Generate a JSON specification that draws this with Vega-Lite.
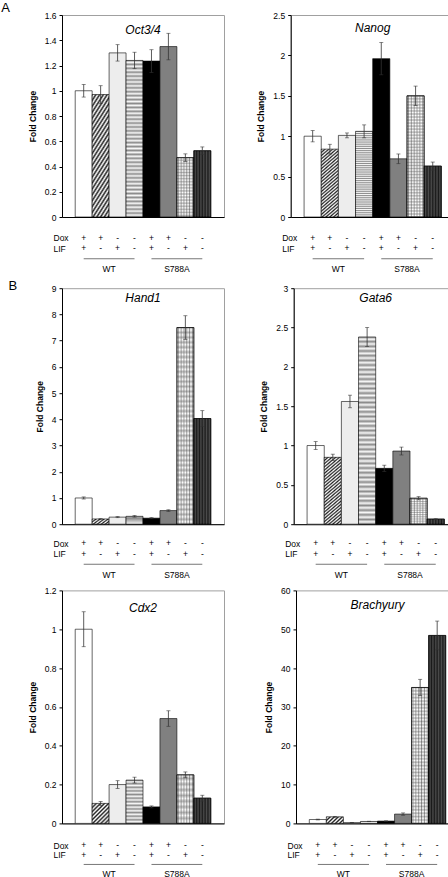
{
"$schema":"https://vega.github.io/schema/vega-lite/v6.json",
"padding":{"left":1,"top":1,"right":0,"bottom":0},
"background":"white",
"params":[
{"name":"hatchT","value":{"gradient":"linear","x1":0,"y1":0,"x2":0.25,"y2":1.15,"stops":[{"offset":0,"color":"#222"},{"offset":0.02,"color":"#fff"},{"offset":0.04,"color":"#222"},{"offset":0.06,"color":"#fff"},{"offset":0.08,"color":"#222"},{"offset":0.1,"color":"#fff"},{"offset":0.12,"color":"#222"},{"offset":0.14,"color":"#fff"},{"offset":0.16,"color":"#222"},{"offset":0.18,"color":"#fff"},{"offset":0.2,"color":"#222"},{"offset":0.22,"color":"#fff"},{"offset":0.24,"color":"#222"},{"offset":0.26,"color":"#fff"},{"offset":0.28,"color":"#222"},{"offset":0.3,"color":"#fff"},{"offset":0.32,"color":"#222"},{"offset":0.34,"color":"#fff"},{"offset":0.36,"color":"#222"},{"offset":0.38,"color":"#fff"},{"offset":0.4,"color":"#222"},{"offset":0.42,"color":"#fff"},{"offset":0.44,"color":"#222"},{"offset":0.46,"color":"#fff"},{"offset":0.48,"color":"#222"},{"offset":0.5,"color":"#fff"},{"offset":0.52,"color":"#222"},{"offset":0.54,"color":"#fff"},{"offset":0.56,"color":"#222"},{"offset":0.58,"color":"#fff"},{"offset":0.6,"color":"#222"},{"offset":0.62,"color":"#fff"},{"offset":0.64,"color":"#222"},{"offset":0.66,"color":"#fff"},{"offset":0.68,"color":"#222"},{"offset":0.7,"color":"#fff"},{"offset":0.72,"color":"#222"},{"offset":0.74,"color":"#fff"},{"offset":0.76,"color":"#222"},{"offset":0.78,"color":"#fff"},{"offset":0.8,"color":"#222"},{"offset":0.82,"color":"#fff"},{"offset":0.84,"color":"#222"},{"offset":0.86,"color":"#fff"},{"offset":0.88,"color":"#222"},{"offset":0.9,"color":"#fff"},{"offset":0.92,"color":"#222"},{"offset":0.94,"color":"#fff"},{"offset":0.96,"color":"#222"},{"offset":0.98,"color":"#fff"},{"offset":1,"color":"#222"}]}},
{"name":"hatchC","value":{"gradient":"linear","x1":0,"y1":0,"x2":0.91,"y2":1.08,"stops":[{"offset":0,"color":"#222"},{"offset":0.0556,"color":"#fff"},{"offset":0.1111,"color":"#222"},{"offset":0.1667,"color":"#fff"},{"offset":0.2222,"color":"#222"},{"offset":0.2778,"color":"#fff"},{"offset":0.3333,"color":"#222"},{"offset":0.3889,"color":"#fff"},{"offset":0.4444,"color":"#222"},{"offset":0.5,"color":"#fff"},{"offset":0.5556,"color":"#222"},{"offset":0.6111,"color":"#fff"},{"offset":0.6667,"color":"#222"},{"offset":0.7222,"color":"#fff"},{"offset":0.7778,"color":"#222"},{"offset":0.8333,"color":"#fff"},{"offset":0.8889,"color":"#222"},{"offset":0.9444,"color":"#fff"},{"offset":1,"color":"#222"}]}},
{"name":"hatchS","value":{"gradient":"linear","x1":0,"y1":0,"x2":1.21,"y2":0.5,"stops":[{"offset":0,"color":"#222"},{"offset":0.0833,"color":"#fff"},{"offset":0.1667,"color":"#222"},{"offset":0.25,"color":"#fff"},{"offset":0.3333,"color":"#222"},{"offset":0.4167,"color":"#fff"},{"offset":0.5,"color":"#222"},{"offset":0.5833,"color":"#fff"},{"offset":0.6667,"color":"#222"},{"offset":0.75,"color":"#fff"},{"offset":0.8333,"color":"#222"},{"offset":0.9167,"color":"#fff"},{"offset":1,"color":"#222"}]}},
{"name":"hstripeS","value":{"gradient":"linear","x1":0,"y1":0,"x2":0,"y2":1,"stops":[{"offset":0,"color":"#8c8c8c"},{"offset":0.0417,"color":"#f7f7f7"},{"offset":0.0833,"color":"#8c8c8c"},{"offset":0.125,"color":"#f7f7f7"},{"offset":0.1667,"color":"#8c8c8c"},{"offset":0.2083,"color":"#f7f7f7"},{"offset":0.25,"color":"#8c8c8c"},{"offset":0.2917,"color":"#f7f7f7"},{"offset":0.3333,"color":"#8c8c8c"},{"offset":0.375,"color":"#f7f7f7"},{"offset":0.4167,"color":"#8c8c8c"},{"offset":0.4583,"color":"#f7f7f7"},{"offset":0.5,"color":"#8c8c8c"},{"offset":0.5417,"color":"#f7f7f7"},{"offset":0.5833,"color":"#8c8c8c"},{"offset":0.625,"color":"#f7f7f7"},{"offset":0.6667,"color":"#8c8c8c"},{"offset":0.7083,"color":"#f7f7f7"},{"offset":0.75,"color":"#8c8c8c"},{"offset":0.7917,"color":"#f7f7f7"},{"offset":0.8333,"color":"#8c8c8c"},{"offset":0.875,"color":"#f7f7f7"},{"offset":0.9167,"color":"#8c8c8c"},{"offset":0.9583,"color":"#f7f7f7"},{"offset":1,"color":"#8c8c8c"}]}},
{"name":"hstripe","value":{"gradient":"linear","x1":0,"y1":0,"x2":0,"y2":1,"stops":[{"offset":0,"color":"#8c8c8c"},{"offset":0.0125,"color":"#f7f7f7"},{"offset":0.025,"color":"#8c8c8c"},{"offset":0.0375,"color":"#f7f7f7"},{"offset":0.05,"color":"#8c8c8c"},{"offset":0.0625,"color":"#f7f7f7"},{"offset":0.075,"color":"#8c8c8c"},{"offset":0.0875,"color":"#f7f7f7"},{"offset":0.1,"color":"#8c8c8c"},{"offset":0.1125,"color":"#f7f7f7"},{"offset":0.125,"color":"#8c8c8c"},{"offset":0.1375,"color":"#f7f7f7"},{"offset":0.15,"color":"#8c8c8c"},{"offset":0.1625,"color":"#f7f7f7"},{"offset":0.175,"color":"#8c8c8c"},{"offset":0.1875,"color":"#f7f7f7"},{"offset":0.2,"color":"#8c8c8c"},{"offset":0.2125,"color":"#f7f7f7"},{"offset":0.225,"color":"#8c8c8c"},{"offset":0.2375,"color":"#f7f7f7"},{"offset":0.25,"color":"#8c8c8c"},{"offset":0.2625,"color":"#f7f7f7"},{"offset":0.275,"color":"#8c8c8c"},{"offset":0.2875,"color":"#f7f7f7"},{"offset":0.3,"color":"#8c8c8c"},{"offset":0.3125,"color":"#f7f7f7"},{"offset":0.325,"color":"#8c8c8c"},{"offset":0.3375,"color":"#f7f7f7"},{"offset":0.35,"color":"#8c8c8c"},{"offset":0.3625,"color":"#f7f7f7"},{"offset":0.375,"color":"#8c8c8c"},{"offset":0.3875,"color":"#f7f7f7"},{"offset":0.4,"color":"#8c8c8c"},{"offset":0.4125,"color":"#f7f7f7"},{"offset":0.425,"color":"#8c8c8c"},{"offset":0.4375,"color":"#f7f7f7"},{"offset":0.45,"color":"#8c8c8c"},{"offset":0.4625,"color":"#f7f7f7"},{"offset":0.475,"color":"#8c8c8c"},{"offset":0.4875,"color":"#f7f7f7"},{"offset":0.5,"color":"#8c8c8c"},{"offset":0.5125,"color":"#f7f7f7"},{"offset":0.525,"color":"#8c8c8c"},{"offset":0.5375,"color":"#f7f7f7"},{"offset":0.55,"color":"#8c8c8c"},{"offset":0.5625,"color":"#f7f7f7"},{"offset":0.575,"color":"#8c8c8c"},{"offset":0.5875,"color":"#f7f7f7"},{"offset":0.6,"color":"#8c8c8c"},{"offset":0.6125,"color":"#f7f7f7"},{"offset":0.625,"color":"#8c8c8c"},{"offset":0.6375,"color":"#f7f7f7"},{"offset":0.65,"color":"#8c8c8c"},{"offset":0.6625,"color":"#f7f7f7"},{"offset":0.675,"color":"#8c8c8c"},{"offset":0.6875,"color":"#f7f7f7"},{"offset":0.7,"color":"#8c8c8c"},{"offset":0.7125,"color":"#f7f7f7"},{"offset":0.725,"color":"#8c8c8c"},{"offset":0.7375,"color":"#f7f7f7"},{"offset":0.75,"color":"#8c8c8c"},{"offset":0.7625,"color":"#f7f7f7"},{"offset":0.775,"color":"#8c8c8c"},{"offset":0.7875,"color":"#f7f7f7"},{"offset":0.8,"color":"#8c8c8c"},{"offset":0.8125,"color":"#f7f7f7"},{"offset":0.825,"color":"#8c8c8c"},{"offset":0.8375,"color":"#f7f7f7"},{"offset":0.85,"color":"#8c8c8c"},{"offset":0.8625,"color":"#f7f7f7"},{"offset":0.875,"color":"#8c8c8c"},{"offset":0.8875,"color":"#f7f7f7"},{"offset":0.9,"color":"#8c8c8c"},{"offset":0.9125,"color":"#f7f7f7"},{"offset":0.925,"color":"#8c8c8c"},{"offset":0.9375,"color":"#f7f7f7"},{"offset":0.95,"color":"#8c8c8c"},{"offset":0.9625,"color":"#f7f7f7"},{"offset":0.975,"color":"#8c8c8c"},{"offset":0.9875,"color":"#f7f7f7"},{"offset":1,"color":"#8c8c8c"}]}},
{"name":"gridH","value":{"gradient":"linear","x1":0,"y1":0,"x2":0,"y2":1,"stops":[{"offset":0,"color":"#b0b0b0"},{"offset":0.0125,"color":"#ffffff"},{"offset":0.025,"color":"#b0b0b0"},{"offset":0.0375,"color":"#ffffff"},{"offset":0.05,"color":"#b0b0b0"},{"offset":0.0625,"color":"#ffffff"},{"offset":0.075,"color":"#b0b0b0"},{"offset":0.0875,"color":"#ffffff"},{"offset":0.1,"color":"#b0b0b0"},{"offset":0.1125,"color":"#ffffff"},{"offset":0.125,"color":"#b0b0b0"},{"offset":0.1375,"color":"#ffffff"},{"offset":0.15,"color":"#b0b0b0"},{"offset":0.1625,"color":"#ffffff"},{"offset":0.175,"color":"#b0b0b0"},{"offset":0.1875,"color":"#ffffff"},{"offset":0.2,"color":"#b0b0b0"},{"offset":0.2125,"color":"#ffffff"},{"offset":0.225,"color":"#b0b0b0"},{"offset":0.2375,"color":"#ffffff"},{"offset":0.25,"color":"#b0b0b0"},{"offset":0.2625,"color":"#ffffff"},{"offset":0.275,"color":"#b0b0b0"},{"offset":0.2875,"color":"#ffffff"},{"offset":0.3,"color":"#b0b0b0"},{"offset":0.3125,"color":"#ffffff"},{"offset":0.325,"color":"#b0b0b0"},{"offset":0.3375,"color":"#ffffff"},{"offset":0.35,"color":"#b0b0b0"},{"offset":0.3625,"color":"#ffffff"},{"offset":0.375,"color":"#b0b0b0"},{"offset":0.3875,"color":"#ffffff"},{"offset":0.4,"color":"#b0b0b0"},{"offset":0.4125,"color":"#ffffff"},{"offset":0.425,"color":"#b0b0b0"},{"offset":0.4375,"color":"#ffffff"},{"offset":0.45,"color":"#b0b0b0"},{"offset":0.4625,"color":"#ffffff"},{"offset":0.475,"color":"#b0b0b0"},{"offset":0.4875,"color":"#ffffff"},{"offset":0.5,"color":"#b0b0b0"},{"offset":0.5125,"color":"#ffffff"},{"offset":0.525,"color":"#b0b0b0"},{"offset":0.5375,"color":"#ffffff"},{"offset":0.55,"color":"#b0b0b0"},{"offset":0.5625,"color":"#ffffff"},{"offset":0.575,"color":"#b0b0b0"},{"offset":0.5875,"color":"#ffffff"},{"offset":0.6,"color":"#b0b0b0"},{"offset":0.6125,"color":"#ffffff"},{"offset":0.625,"color":"#b0b0b0"},{"offset":0.6375,"color":"#ffffff"},{"offset":0.65,"color":"#b0b0b0"},{"offset":0.6625,"color":"#ffffff"},{"offset":0.675,"color":"#b0b0b0"},{"offset":0.6875,"color":"#ffffff"},{"offset":0.7,"color":"#b0b0b0"},{"offset":0.7125,"color":"#ffffff"},{"offset":0.725,"color":"#b0b0b0"},{"offset":0.7375,"color":"#ffffff"},{"offset":0.75,"color":"#b0b0b0"},{"offset":0.7625,"color":"#ffffff"},{"offset":0.775,"color":"#b0b0b0"},{"offset":0.7875,"color":"#ffffff"},{"offset":0.8,"color":"#b0b0b0"},{"offset":0.8125,"color":"#ffffff"},{"offset":0.825,"color":"#b0b0b0"},{"offset":0.8375,"color":"#ffffff"},{"offset":0.85,"color":"#b0b0b0"},{"offset":0.8625,"color":"#ffffff"},{"offset":0.875,"color":"#b0b0b0"},{"offset":0.8875,"color":"#ffffff"},{"offset":0.9,"color":"#b0b0b0"},{"offset":0.9125,"color":"#ffffff"},{"offset":0.925,"color":"#b0b0b0"},{"offset":0.9375,"color":"#ffffff"},{"offset":0.95,"color":"#b0b0b0"},{"offset":0.9625,"color":"#ffffff"},{"offset":0.975,"color":"#b0b0b0"},{"offset":0.9875,"color":"#ffffff"},{"offset":1,"color":"#b0b0b0"}]}},
{"name":"gridV","value":{"gradient":"linear","x1":0,"y1":0,"x2":1,"y2":0,"stops":[{"offset":0,"color":"rgba(255,255,255,0)"},{"offset":0.0833,"color":"rgba(60,60,60,0.55)"},{"offset":0.1667,"color":"rgba(255,255,255,0)"},{"offset":0.25,"color":"rgba(60,60,60,0.55)"},{"offset":0.3333,"color":"rgba(255,255,255,0)"},{"offset":0.4167,"color":"rgba(60,60,60,0.55)"},{"offset":0.5,"color":"rgba(255,255,255,0)"},{"offset":0.5833,"color":"rgba(60,60,60,0.55)"},{"offset":0.6667,"color":"rgba(255,255,255,0)"},{"offset":0.75,"color":"rgba(60,60,60,0.55)"},{"offset":0.8333,"color":"rgba(255,255,255,0)"},{"offset":0.9167,"color":"rgba(60,60,60,0.55)"},{"offset":1,"color":"rgba(255,255,255,0)"}]}},
{"name":"dotV","value":{"gradient":"linear","x1":0,"y1":0,"x2":1,"y2":0,"stops":[{"offset":0,"color":"rgba(255,255,255,0)"},{"offset":0.0833,"color":"rgba(255,255,255,0.22)"},{"offset":0.1667,"color":"rgba(255,255,255,0)"},{"offset":0.25,"color":"rgba(255,255,255,0.22)"},{"offset":0.3333,"color":"rgba(255,255,255,0)"},{"offset":0.4167,"color":"rgba(255,255,255,0.22)"},{"offset":0.5,"color":"rgba(255,255,255,0)"},{"offset":0.5833,"color":"rgba(255,255,255,0.22)"},{"offset":0.6667,"color":"rgba(255,255,255,0)"},{"offset":0.75,"color":"rgba(255,255,255,0.22)"},{"offset":0.8333,"color":"rgba(255,255,255,0)"},{"offset":0.9167,"color":"rgba(255,255,255,0.22)"},{"offset":1,"color":"rgba(255,255,255,0)"}]}}
],
"datasets":{
"bars":[
{"gene":"Oct3/4","cond":"c1","value":1.0,"err":0.05},{"gene":"Oct3/4","cond":"c2","value":0.97,"err":0.07},{"gene":"Oct3/4","cond":"c3","value":1.3,"err":0.065},{"gene":"Oct3/4","cond":"c4","value":1.24,"err":0.065},{"gene":"Oct3/4","cond":"c5","value":1.235,"err":0.09},{"gene":"Oct3/4","cond":"c6","value":1.35,"err":0.105},{"gene":"Oct3/4","cond":"c7","value":0.47,"err":0.03},{"gene":"Oct3/4","cond":"c8","value":0.525,"err":0.03},
{"gene":"Nanog","cond":"c1","value":1.0,"err":0.07},{"gene":"Nanog","cond":"c2","value":0.84,"err":0.06},{"gene":"Nanog","cond":"c3","value":1.01,"err":0.03},{"gene":"Nanog","cond":"c4","value":1.06,"err":0.08},{"gene":"Nanog","cond":"c5","value":1.96,"err":0.2},{"gene":"Nanog","cond":"c6","value":0.72,"err":0.06},{"gene":"Nanog","cond":"c7","value":1.5,"err":0.12},{"gene":"Nanog","cond":"c8","value":0.63,"err":0.05},
{"gene":"Hand1","cond":"c1","value":1.0,"err":0.04},{"gene":"Hand1","cond":"c2","value":0.2,"err":0.01},{"gene":"Hand1","cond":"c3","value":0.27,"err":0.02},{"gene":"Hand1","cond":"c4","value":0.3,"err":0.03},{"gene":"Hand1","cond":"c5","value":0.23,"err":0.02},{"gene":"Hand1","cond":"c6","value":0.52,"err":0.03},{"gene":"Hand1","cond":"c7","value":7.5,"err":0.45},{"gene":"Hand1","cond":"c8","value":4.03,"err":0.3},
{"gene":"Gata6","cond":"c1","value":1.0,"err":0.05},{"gene":"Gata6","cond":"c2","value":0.85,"err":0.04},{"gene":"Gata6","cond":"c3","value":1.56,"err":0.08},{"gene":"Gata6","cond":"c4","value":2.38,"err":0.12},{"gene":"Gata6","cond":"c5","value":0.71,"err":0.04},{"gene":"Gata6","cond":"c6","value":0.93,"err":0.05},{"gene":"Gata6","cond":"c7","value":0.33,"err":0.02},{"gene":"Gata6","cond":"c8","value":0.065,"err":0.005},
{"gene":"Cdx2","cond":"c1","value":1.0,"err":0.09},{"gene":"Cdx2","cond":"c2","value":0.103,"err":0.01},{"gene":"Cdx2","cond":"c3","value":0.2,"err":0.02},{"gene":"Cdx2","cond":"c4","value":0.223,"err":0.015},{"gene":"Cdx2","cond":"c5","value":0.085,"err":0.005},{"gene":"Cdx2","cond":"c6","value":0.54,"err":0.04},{"gene":"Cdx2","cond":"c7","value":0.25,"err":0.015},{"gene":"Cdx2","cond":"c8","value":0.13,"err":0.015},
{"gene":"Brachyury","cond":"c1","value":1.0,"err":0.1},{"gene":"Brachyury","cond":"c2","value":1.7,"err":0.1},{"gene":"Brachyury","cond":"c3","value":0.2,"err":0.05},{"gene":"Brachyury","cond":"c4","value":0.5,"err":0.05},{"gene":"Brachyury","cond":"c5","value":0.6,"err":0.05},{"gene":"Brachyury","cond":"c6","value":2.4,"err":0.3},{"gene":"Brachyury","cond":"c7","value":35,"err":2.1},{"gene":"Brachyury","cond":"c8","value":48.4,"err":3.7}
],
"ann":[
{"cond":"c1","row":"Dox","sym":"+"},{"cond":"c2","row":"Dox","sym":"+"},{"cond":"c3","row":"Dox","sym":"-"},{"cond":"c4","row":"Dox","sym":"-"},{"cond":"c5","row":"Dox","sym":"+"},{"cond":"c6","row":"Dox","sym":"+"},{"cond":"c7","row":"Dox","sym":"-"},{"cond":"c8","row":"Dox","sym":"-"},
{"cond":"c1","row":"LIF","sym":"+"},{"cond":"c2","row":"LIF","sym":"-"},{"cond":"c3","row":"LIF","sym":"+"},{"cond":"c4","row":"LIF","sym":"-"},{"cond":"c5","row":"LIF","sym":"+"},{"cond":"c6","row":"LIF","sym":"-"},{"cond":"c7","row":"LIF","sym":"+"},{"cond":"c8","row":"LIF","sym":"-"}
],
"grp":[{"grp":"WT","from":"c1","to":"c4","mid":"c2"},{"grp":"S788A","from":"c5","to":"c8","mid":"c6"}]
},
"spacing":5.2,
"vconcat":[
{"title":{"text":"A","orient":"left","anchor":"end","frame":"group","angle":0,"align":"right","baseline":"alphabetic","fontSize":13,"offset":9,"dy":-3.25},
"spacing":30.7,
"hconcat":[
{"spacing":10.5,"vconcat":[
{"width":162,"height":202,
"data":{"name":"bars"},"transform":[{"filter":"datum.gene === 'Oct3/4'"}],
"encoding":{"x":{"field":"cond","type":"nominal","scale":{"domain":["c1","c2","c3","c4","c5","c6","c7","c8"],"paddingInner":0,"paddingOuter":0.78},"axis":{"labels":false,"ticks":false,"title":null}},
"y":{"field":"value","type":"quantitative","scale":{"domain":[0,1.6],"nice":false},"axis":{"values":[0,0.2,0.4,0.6,0.8,1,1.2,1.4,1.6],"format":"~r","title":"Fold Change"}}},
"layer":[
{"transform":[{"filter":"datum.cond === 'c1'"}],"mark":{"type":"bar","fill":"#ffffff"}},
{"transform":[{"filter":"datum.cond === 'c2'"}],"mark":{"type":"bar","fill":{"expr":"hatchT"}}},
{"transform":[{"filter":"datum.cond === 'c3'"}],"mark":{"type":"bar","fill":"#ededed"}},
{"transform":[{"filter":"datum.cond === 'c4'"}],"mark":{"type":"bar","fill":{"expr":"hstripe"}}},
{"transform":[{"filter":"datum.cond === 'c5'"}],"mark":{"type":"bar","fill":"#000000"}},
{"transform":[{"filter":"datum.cond === 'c6'"}],"mark":{"type":"bar","fill":"#808080"}},
{"transform":[{"filter":"datum.cond === 'c7'"}],"mark":{"type":"bar","fill":{"expr":"gridH"}}},
{"transform":[{"filter":"datum.cond === 'c7'"}],"mark":{"type":"bar","fill":{"expr":"gridV"}}},
{"transform":[{"filter":"datum.cond === 'c8'"}],"mark":{"type":"bar","fill":"#1a1a1a"}},
{"transform":[{"filter":"datum.cond === 'c8'"}],"mark":{"type":"bar","fill":{"expr":"dotV"}}},
{"mark":{"type":"errorbar","color":"#333","thickness":0.8,"ticks":{"size":4}},"encoding":{"yError":{"field":"err"}}},
{"transform":[{"filter":"datum.cond === 'c4'"}],"mark":{"type":"text","fontSize":12,"fontStyle":"italic","baseline":"alphabetic","align":"center"},"encoding":{"x":{"field":"cond","type":"nominal","bandPosition":1},"y":{"datum":1.45,"type":"quantitative"},"text":{"field":"gene"}}}
]},
{"width":162,"height":42,"view":{"stroke":null},
"layer":[
{"data":{"name":"ann"},"mark":{"type":"text"},"encoding":{"x":{"field":"cond","type":"nominal","scale":{"domain":["c1","c2","c3","c4","c5","c6","c7","c8"],"paddingInner":0,"paddingOuter":0.78},"axis":null},"y":{"field":"row","type":"nominal","scale":{"type":"point","domain":["Dox","LIF","line","grp"],"padding":0.5},"axis":{"values":["Dox","LIF"],"domain":false,"ticks":false,"tickSize":0,"labelAlign":"left","labelPadding":9,"title":null}},"text":{"field":"sym"}}},
{"data":{"name":"grp"},"mark":{"type":"rule","color":"#777","strokeWidth":1},"encoding":{"x":{"field":"from","type":"nominal"},"x2":{"field":"to"},"y":{"datum":"line","type":"nominal"}}},
{"data":{"name":"grp"},"mark":{"type":"text"},"encoding":{"x":{"field":"mid","type":"nominal","bandPosition":1},"y":{"datum":"grp","type":"nominal"},"text":{"field":"grp"}}}
]}
]},
{"spacing":10.5,"vconcat":[
{"width":164,"height":202,
"data":{"name":"bars"},"transform":[{"filter":"datum.gene === 'Nanog'"}],
"encoding":{"x":{"field":"cond","type":"nominal","scale":{"domain":["c1","c2","c3","c4","c5","c6","c7","c8"],"paddingInner":0,"paddingOuter":0.78},"axis":{"labels":false,"ticks":false,"title":null}},
"y":{"field":"value","type":"quantitative","scale":{"domain":[0,2.5],"nice":false},"axis":{"values":[0,0.5,1,1.5,2,2.5],"format":"~r","title":"Fold Change"}}},
"layer":[
{"transform":[{"filter":"datum.cond === 'c1'"}],"mark":{"type":"bar","fill":"#ffffff"}},
{"transform":[{"filter":"datum.cond === 'c2'"}],"mark":{"type":"bar","fill":{"expr":"hatchT"}}},
{"transform":[{"filter":"datum.cond === 'c3'"}],"mark":{"type":"bar","fill":"#ededed"}},
{"transform":[{"filter":"datum.cond === 'c4'"}],"mark":{"type":"bar","fill":{"expr":"hstripe"}}},
{"transform":[{"filter":"datum.cond === 'c5'"}],"mark":{"type":"bar","fill":"#000000"}},
{"transform":[{"filter":"datum.cond === 'c6'"}],"mark":{"type":"bar","fill":"#808080"}},
{"transform":[{"filter":"datum.cond === 'c7'"}],"mark":{"type":"bar","fill":{"expr":"gridH"}}},
{"transform":[{"filter":"datum.cond === 'c7'"}],"mark":{"type":"bar","fill":{"expr":"gridV"}}},
{"transform":[{"filter":"datum.cond === 'c8'"}],"mark":{"type":"bar","fill":"#1a1a1a"}},
{"transform":[{"filter":"datum.cond === 'c8'"}],"mark":{"type":"bar","fill":{"expr":"dotV"}}},
{"mark":{"type":"errorbar","color":"#333","thickness":0.8,"ticks":{"size":4}},"encoding":{"yError":{"field":"err"}}},
{"transform":[{"filter":"datum.cond === 'c4'"}],"mark":{"type":"text","fontSize":12,"fontStyle":"italic","baseline":"alphabetic","align":"center"},"encoding":{"x":{"field":"cond","type":"nominal","bandPosition":1},"y":{"datum":2.29,"type":"quantitative"},"text":{"field":"gene"}}}
]},
{"width":164,"height":42,"view":{"stroke":null},
"layer":[
{"data":{"name":"ann"},"mark":{"type":"text"},"encoding":{"x":{"field":"cond","type":"nominal","scale":{"domain":["c1","c2","c3","c4","c5","c6","c7","c8"],"paddingInner":0,"paddingOuter":0.78},"axis":null},"y":{"field":"row","type":"nominal","scale":{"type":"point","domain":["Dox","LIF","line","grp"],"padding":0.5},"axis":{"values":["Dox","LIF"],"domain":false,"ticks":false,"tickSize":0,"labelAlign":"left","labelPadding":9,"title":null}},"text":{"field":"sym"}}},
{"data":{"name":"grp"},"mark":{"type":"rule","color":"#777","strokeWidth":1},"encoding":{"x":{"field":"from","type":"nominal"},"x2":{"field":"to"},"y":{"datum":"line","type":"nominal"}}},
{"data":{"name":"grp"},"mark":{"type":"text"},"encoding":{"x":{"field":"mid","type":"nominal","bandPosition":1},"y":{"datum":"grp","type":"nominal"},"text":{"field":"grp"}}}
]}
]}
]},
{"title":{"text":"B","orient":"left","anchor":"end","frame":"group","angle":0,"align":"right","baseline":"alphabetic","fontSize":13,"offset":9,"dy":2},
"spacing":33.7,
"hconcat":[
{"spacing":8.8,"vconcat":[
{"width":162,"height":236,
"data":{"name":"bars"},"transform":[{"filter":"datum.gene === 'Hand1'"}],
"encoding":{"x":{"field":"cond","type":"nominal","scale":{"domain":["c1","c2","c3","c4","c5","c6","c7","c8"],"paddingInner":0,"paddingOuter":0.78},"axis":{"labels":false,"ticks":false,"title":null}},
"y":{"field":"value","type":"quantitative","scale":{"domain":[0,9],"nice":false},"axis":{"values":[0,1,2,3,4,5,6,7,8,9],"format":"~r","title":"Fold Change"}}},
"layer":[
{"transform":[{"filter":"datum.cond === 'c1'"}],"mark":{"type":"bar","fill":"#ffffff"}},
{"transform":[{"filter":"datum.cond === 'c2'"}],"mark":{"type":"bar","fill":{"expr":"hatchS"}}},
{"transform":[{"filter":"datum.cond === 'c3'"}],"mark":{"type":"bar","fill":"#ededed"}},
{"transform":[{"filter":"datum.cond === 'c4'"}],"mark":{"type":"bar","fill":{"expr":"hstripe"}}},
{"transform":[{"filter":"datum.cond === 'c5'"}],"mark":{"type":"bar","fill":"#000000"}},
{"transform":[{"filter":"datum.cond === 'c6'"}],"mark":{"type":"bar","fill":"#808080"}},
{"transform":[{"filter":"datum.cond === 'c7'"}],"mark":{"type":"bar","fill":{"expr":"gridH"}}},
{"transform":[{"filter":"datum.cond === 'c7'"}],"mark":{"type":"bar","fill":{"expr":"gridV"}}},
{"transform":[{"filter":"datum.cond === 'c8'"}],"mark":{"type":"bar","fill":"#1a1a1a"}},
{"transform":[{"filter":"datum.cond === 'c8'"}],"mark":{"type":"bar","fill":{"expr":"dotV"}}},
{"mark":{"type":"errorbar","color":"#333","thickness":0.8,"ticks":{"size":4}},"encoding":{"yError":{"field":"err"}}},
{"transform":[{"filter":"datum.cond === 'c4'"}],"mark":{"type":"text","fontSize":12,"fontStyle":"italic","baseline":"alphabetic","align":"center"},"encoding":{"x":{"field":"cond","type":"nominal","bandPosition":1},"y":{"datum":8.46,"type":"quantitative"},"text":{"field":"gene"}}}
]},
{"width":162,"height":42,"view":{"stroke":null},
"layer":[
{"data":{"name":"ann"},"mark":{"type":"text"},"encoding":{"x":{"field":"cond","type":"nominal","scale":{"domain":["c1","c2","c3","c4","c5","c6","c7","c8"],"paddingInner":0,"paddingOuter":0.78},"axis":null},"y":{"field":"row","type":"nominal","scale":{"type":"point","domain":["Dox","LIF","line","grp"],"padding":0.5},"axis":{"values":["Dox","LIF"],"domain":false,"ticks":false,"tickSize":0,"labelAlign":"left","labelPadding":9,"title":null}},"text":{"field":"sym"}}},
{"data":{"name":"grp"},"mark":{"type":"rule","color":"#777","strokeWidth":1},"encoding":{"x":{"field":"from","type":"nominal"},"x2":{"field":"to"},"y":{"datum":"line","type":"nominal"}}},
{"data":{"name":"grp"},"mark":{"type":"text"},"encoding":{"x":{"field":"mid","type":"nominal","bandPosition":1},"y":{"datum":"grp","type":"nominal"},"text":{"field":"grp"}}}
]}
]},
{"spacing":8.8,"vconcat":[
{"width":164,"height":236,
"data":{"name":"bars"},"transform":[{"filter":"datum.gene === 'Gata6'"}],
"encoding":{"x":{"field":"cond","type":"nominal","scale":{"domain":["c1","c2","c3","c4","c5","c6","c7","c8"],"paddingInner":0,"paddingOuter":0.78},"axis":{"labels":false,"ticks":false,"title":null}},
"y":{"field":"value","type":"quantitative","scale":{"domain":[0,3],"nice":false},"axis":{"values":[0,0.5,1,1.5,2,2.5,3],"format":"~r","title":"Fold Change"}}},
"layer":[
{"transform":[{"filter":"datum.cond === 'c1'"}],"mark":{"type":"bar","fill":"#ffffff"}},
{"transform":[{"filter":"datum.cond === 'c2'"}],"mark":{"type":"bar","fill":{"expr":"hatchT"}}},
{"transform":[{"filter":"datum.cond === 'c3'"}],"mark":{"type":"bar","fill":"#ededed"}},
{"transform":[{"filter":"datum.cond === 'c4'"}],"mark":{"type":"bar","fill":{"expr":"hstripe"}}},
{"transform":[{"filter":"datum.cond === 'c5'"}],"mark":{"type":"bar","fill":"#000000"}},
{"transform":[{"filter":"datum.cond === 'c6'"}],"mark":{"type":"bar","fill":"#808080"}},
{"transform":[{"filter":"datum.cond === 'c7'"}],"mark":{"type":"bar","fill":{"expr":"gridH"}}},
{"transform":[{"filter":"datum.cond === 'c7'"}],"mark":{"type":"bar","fill":{"expr":"gridV"}}},
{"transform":[{"filter":"datum.cond === 'c8'"}],"mark":{"type":"bar","fill":"#1a1a1a"}},
{"transform":[{"filter":"datum.cond === 'c8'"}],"mark":{"type":"bar","fill":{"expr":"dotV"}}},
{"mark":{"type":"errorbar","color":"#333","thickness":0.8,"ticks":{"size":4}},"encoding":{"yError":{"field":"err"}}},
{"transform":[{"filter":"datum.cond === 'c4'"}],"mark":{"type":"text","fontSize":12,"fontStyle":"italic","baseline":"alphabetic","align":"center"},"encoding":{"x":{"field":"cond","type":"nominal","bandPosition":1},"y":{"datum":2.82,"type":"quantitative"},"text":{"field":"gene"}}}
]},
{"width":164,"height":42,"view":{"stroke":null},
"layer":[
{"data":{"name":"ann"},"mark":{"type":"text"},"encoding":{"x":{"field":"cond","type":"nominal","scale":{"domain":["c1","c2","c3","c4","c5","c6","c7","c8"],"paddingInner":0,"paddingOuter":0.78},"axis":null},"y":{"field":"row","type":"nominal","scale":{"type":"point","domain":["Dox","LIF","line","grp"],"padding":0.5},"axis":{"values":["Dox","LIF"],"domain":false,"ticks":false,"tickSize":0,"labelAlign":"left","labelPadding":9,"title":null}},"text":{"field":"sym"}}},
{"data":{"name":"grp"},"mark":{"type":"rule","color":"#777","strokeWidth":1},"encoding":{"x":{"field":"from","type":"nominal"},"x2":{"field":"to"},"y":{"datum":"line","type":"nominal"}}},
{"data":{"name":"grp"},"mark":{"type":"text"},"encoding":{"x":{"field":"mid","type":"nominal","bandPosition":1},"y":{"datum":"grp","type":"nominal"},"text":{"field":"grp"}}}
]}
]}
]},
{"spacing":39,
"hconcat":[
{"spacing":12.3,"vconcat":[
{"width":162,"height":233,
"data":{"name":"bars"},"transform":[{"filter":"datum.gene === 'Cdx2'"}],
"encoding":{"x":{"field":"cond","type":"nominal","scale":{"domain":["c1","c2","c3","c4","c5","c6","c7","c8"],"paddingInner":0,"paddingOuter":0.78},"axis":{"labels":false,"ticks":false,"title":null}},
"y":{"field":"value","type":"quantitative","scale":{"domain":[0,1.2],"nice":false},"axis":{"values":[0,0.2,0.4,0.6,0.8,1,1.2],"format":"~r","title":"Fold Change"}}},
"layer":[
{"transform":[{"filter":"datum.cond === 'c1'"}],"mark":{"type":"bar","fill":"#ffffff"}},
{"transform":[{"filter":"datum.cond === 'c2'"}],"mark":{"type":"bar","fill":{"expr":"hatchC"}}},
{"transform":[{"filter":"datum.cond === 'c3'"}],"mark":{"type":"bar","fill":"#ededed"}},
{"transform":[{"filter":"datum.cond === 'c4'"}],"mark":{"type":"bar","fill":{"expr":"hstripeS"}}},
{"transform":[{"filter":"datum.cond === 'c5'"}],"mark":{"type":"bar","fill":"#000000"}},
{"transform":[{"filter":"datum.cond === 'c6'"}],"mark":{"type":"bar","fill":"#808080"}},
{"transform":[{"filter":"datum.cond === 'c7'"}],"mark":{"type":"bar","fill":{"expr":"gridH"}}},
{"transform":[{"filter":"datum.cond === 'c7'"}],"mark":{"type":"bar","fill":{"expr":"gridV"}}},
{"transform":[{"filter":"datum.cond === 'c8'"}],"mark":{"type":"bar","fill":"#1a1a1a"}},
{"transform":[{"filter":"datum.cond === 'c8'"}],"mark":{"type":"bar","fill":{"expr":"dotV"}}},
{"mark":{"type":"errorbar","color":"#333","thickness":0.8,"ticks":{"size":4}},"encoding":{"yError":{"field":"err"}}},
{"transform":[{"filter":"datum.cond === 'c4'"}],"mark":{"type":"text","fontSize":12,"fontStyle":"italic","baseline":"alphabetic","align":"center"},"encoding":{"x":{"field":"cond","type":"nominal","bandPosition":1},"y":{"datum":1.088,"type":"quantitative"},"text":{"field":"gene"}}}
]},
{"width":162,"height":38,"view":{"stroke":null},
"layer":[
{"data":{"name":"ann"},"mark":{"type":"text"},"encoding":{"x":{"field":"cond","type":"nominal","scale":{"domain":["c1","c2","c3","c4","c5","c6","c7","c8"],"paddingInner":0,"paddingOuter":0.78},"axis":null},"y":{"field":"row","type":"nominal","scale":{"type":"point","domain":["Dox","LIF","line","grp"],"padding":0.5},"axis":{"values":["Dox","LIF"],"domain":false,"ticks":false,"tickSize":0,"labelAlign":"left","labelPadding":9,"title":null}},"text":{"field":"sym"}}},
{"data":{"name":"grp"},"mark":{"type":"rule","color":"#777","strokeWidth":1},"encoding":{"x":{"field":"from","type":"nominal"},"x2":{"field":"to"},"y":{"datum":"line","type":"nominal"}}},
{"data":{"name":"grp"},"mark":{"type":"text"},"encoding":{"x":{"field":"mid","type":"nominal","bandPosition":1},"y":{"datum":"grp","type":"nominal"},"text":{"field":"grp"}}}
]}
]},
{"spacing":12.3,"vconcat":[
{"width":163,"height":233,
"data":{"name":"bars"},"transform":[{"filter":"datum.gene === 'Brachyury'"}],
"encoding":{"x":{"field":"cond","type":"nominal","scale":{"domain":["c1","c2","c3","c4","c5","c6","c7","c8"],"paddingInner":0,"paddingOuter":0.78},"axis":{"labels":false,"ticks":false,"title":null}},
"y":{"field":"value","type":"quantitative","scale":{"domain":[0,60],"nice":false},"axis":{"values":[0,10,20,30,40,50,60],"format":"~r","title":"Fold Change"}}},
"layer":[
{"transform":[{"filter":"datum.cond === 'c1'"}],"mark":{"type":"bar","fill":"#ffffff"}},
{"transform":[{"filter":"datum.cond === 'c2'"}],"mark":{"type":"bar","fill":{"expr":"hatchS"}}},
{"transform":[{"filter":"datum.cond === 'c3'"}],"mark":{"type":"bar","fill":"#ededed"}},
{"transform":[{"filter":"datum.cond === 'c4'"}],"mark":{"type":"bar","fill":{"expr":"hstripe"}}},
{"transform":[{"filter":"datum.cond === 'c5'"}],"mark":{"type":"bar","fill":"#000000"}},
{"transform":[{"filter":"datum.cond === 'c6'"}],"mark":{"type":"bar","fill":"#808080"}},
{"transform":[{"filter":"datum.cond === 'c7'"}],"mark":{"type":"bar","fill":{"expr":"gridH"}}},
{"transform":[{"filter":"datum.cond === 'c7'"}],"mark":{"type":"bar","fill":{"expr":"gridV"}}},
{"transform":[{"filter":"datum.cond === 'c8'"}],"mark":{"type":"bar","fill":"#1a1a1a"}},
{"transform":[{"filter":"datum.cond === 'c8'"}],"mark":{"type":"bar","fill":{"expr":"dotV"}}},
{"mark":{"type":"errorbar","color":"#333","thickness":0.8,"ticks":{"size":4}},"encoding":{"yError":{"field":"err"}}},
{"transform":[{"filter":"datum.cond === 'c4'"}],"mark":{"type":"text","fontSize":12,"fontStyle":"italic","baseline":"alphabetic","align":"center"},"encoding":{"x":{"field":"cond","type":"nominal","bandPosition":1},"y":{"datum":55.1,"type":"quantitative"},"text":{"field":"gene"}}}
]},
{"width":163,"height":38,"view":{"stroke":null},
"layer":[
{"data":{"name":"ann"},"mark":{"type":"text"},"encoding":{"x":{"field":"cond","type":"nominal","scale":{"domain":["c1","c2","c3","c4","c5","c6","c7","c8"],"paddingInner":0,"paddingOuter":0.78},"axis":null},"y":{"field":"row","type":"nominal","scale":{"type":"point","domain":["Dox","LIF","line","grp"],"padding":0.5},"axis":{"values":["Dox","LIF"],"domain":false,"ticks":false,"tickSize":0,"labelAlign":"left","labelPadding":9,"title":null}},"text":{"field":"sym"}}},
{"data":{"name":"grp"},"mark":{"type":"rule","color":"#777","strokeWidth":1},"encoding":{"x":{"field":"from","type":"nominal"},"x2":{"field":"to"},"y":{"datum":"line","type":"nominal"}}},
{"data":{"name":"grp"},"mark":{"type":"text"},"encoding":{"x":{"field":"mid","type":"nominal","bandPosition":1},"y":{"datum":"grp","type":"nominal"},"text":{"field":"grp"}}}
]}
]}
]}
],
"config":{
"font":"Liberation Sans",
"view":{"stroke":"#a0a0a0","strokeWidth":1},
"axis":{"labelFont":"Liberation Sans","labelFontSize":8.5,"labelColor":"#000","titleFont":"Liberation Sans","titleFontSize":8.5,"titleFontWeight":"bold","titleColor":"#000","domainColor":"#000","tickColor":"#000","tickSize":3,"labelPadding":3,"titlePadding":7,"grid":false},
"title":{"font":"Liberation Sans","color":"#000","fontWeight":"normal"},
"text":{"font":"Liberation Sans","fontSize":8.5,"color":"#000"},
"bar":{"stroke":"#000","strokeWidth":0.6}
}
}
